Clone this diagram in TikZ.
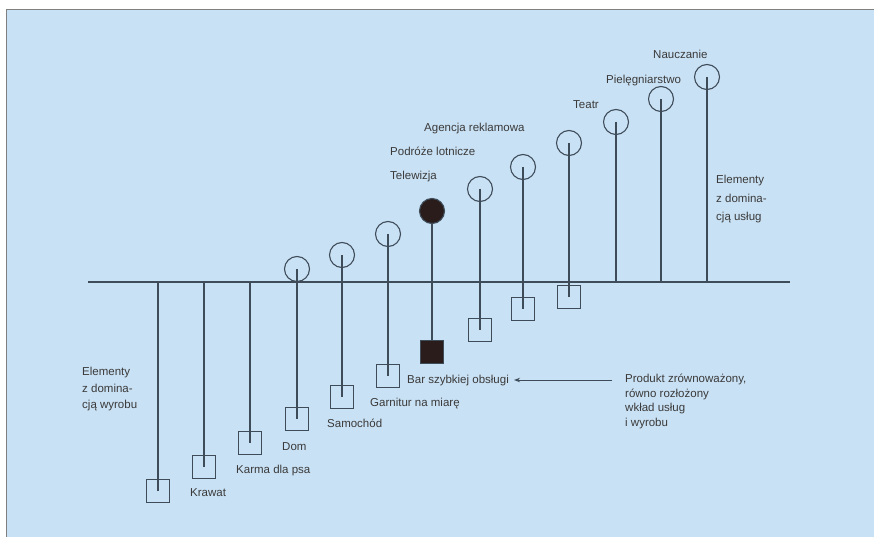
\documentclass[tikz,border=0pt]{standalone}
\usepackage{fontspec}
\setmainfont{Liberation Sans}
\usetikzlibrary{arrows.meta}
\definecolor{tlo}{HTML}{C9E1F4}
\definecolor{linia}{HTML}{3E4C5A}
\definecolor{napis}{HTML}{3A3A3A}
\definecolor{ciemny}{HTML}{2A1C1A}

\begin{document}
\begin{tikzpicture}[x=1pt,y=-1pt]
\tikzstyle{every node}=[font=\fontsize{11.5}{13}\selectfont, text=napis]
\tikzstyle{kolko}=[draw=linia, line width=1.1pt, circle, minimum size=25pt, inner sep=0pt]
\tikzstyle{kwadrat}=[draw=linia, line width=1.1pt, minimum size=23pt, inner sep=0pt]
\tikzstyle{podpis}=[anchor=west, inner sep=0pt, text height=8.5pt, text depth=2pt]
\tikzstyle{opis}=[anchor=north west, inner sep=0pt, align=left]

	\useasboundingbox (0,0) rectangle (874,537);
	\fill[white] (0,0) rectangle (874,537);
	\fill[tlo] (6,10) rectangle (874,537);
	\draw[gray, line width=1pt] (6,537) to (6,10) to (874,10);

	% os
	\coordinate (osL) at (88,282);
	\coordinate (osP) at (790,282);
	\draw[linia, line width=1.1pt] (osL) to (osP);

	% kolko nad osia, kwadrat pod osia
	\foreach \Nr/\X/\YO/\YK in {1/297/269/419, 2/342/255/397, 3/388/234/376, 5/480/189/330, 6/523/167/309, 7/569/143/297}{
		\node[kolko] (o\Nr) at (\X,\YO) {};
		\node[kwadrat] (k\Nr) at (\X,\YK) {};
		\draw[linia, line width=1.1pt] (o\Nr.center) to (k\Nr.center);
	}
	\node[kolko, fill=ciemny] (o4) at (432,211) {};
	\node[kwadrat, fill=ciemny] (k4) at (432,352) {};
	\draw[linia, line width=1.3pt] (o4) to (k4);

	% same uslugi
	\foreach \Nr/\X/\YO in {8/616/122, 9/661/99, 10/707/77}{
		\node[kolko] (o\Nr) at (\X,\YO) {};
		\coordinate (p\Nr) at (\X,282);
		\draw[linia, line width=1.1pt] (o\Nr.center) to (p\Nr);
	}
	% same wyroby
	\foreach \Nr/\X/\YK in {11/158/491, 12/204/467, 13/250/443}{
		\coordinate (p\Nr) at (\X,282);
		\node[kwadrat] (k\Nr) at (\X,\YK) {};
		\draw[linia, line width=1.1pt] (p\Nr) to (k\Nr.center);
	}

	\node[podpis] (nauczanie) at (653,55) {Nauczanie};
	\node[podpis] (pielegn) at (606,80) {Pielęgniarstwo};
	\node[podpis] (teatr) at (573,105) {Teatr};
	\node[podpis] (agencja) at (424,128) {Agencja reklamowa};
	\node[podpis] (podroze) at (390,152) {Podróże lotnicze};
	\node[podpis] (telewizja) at (390,176) {Telewizja};

	\node[podpis] (krawat) at (190,493) {Krawat};
	\node[podpis] (karma) at (236,470) {Karma dla psa};
	\node[podpis] (dom) at (282,447) {Dom};
	\node[podpis] (samochod) at (327,424) {Samochód};
	\node[podpis] (garnitur) at (370,403) {Garnitur na miarę};
	\node[podpis] (bar) at (407,380) {Bar szybkiej obsługi};

	\node[opis, font=\fontsize{11.5}{18.5}\selectfont] (uslugi) at (716,175) {Elementy\\z domina-\\cją usług};
	\node[opis, font=\fontsize{11.5}{16.5}\selectfont] (wyroby) at (82,367) {Elementy\\z domina-\\cją wyrobu};
	\node[opis, font=\fontsize{11.5}{14.5}\selectfont] (produkt) at (625,374) {Produkt zrównoważony,\\równo rozłożony\\wkład usług\\i wyrobu};

	\draw[linia, line width=1pt, -{Stealth[length=6pt, width=4.5pt]}] ([xshift=-13pt]produkt.west |- bar.east) to ([xshift=5pt]bar.east);
\end{tikzpicture}
\end{document}
